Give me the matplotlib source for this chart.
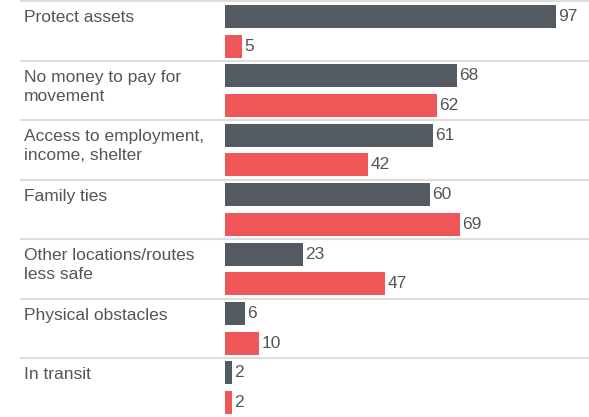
import matplotlib
matplotlib.use("Agg")
import matplotlib.pyplot as plt
import matplotlib.transforms as mtransforms

categories = ["Protect assets", "No money to pay for\nmovement",
              "Access to employment,\nincome, shelter", "Family ties",
              "Other locations/routes\nless safe", "Physical obstacles", "In transit"]
series_dark = [97, 68, 61, 60, 23, 6, 2]
series_red = [5, 62, 42, 69, 47, 10, 2]

DARK = "#535a61"
RED = "#ee5657"
TEXT = "#555555"

plt.rcParams['font.family'] = ['Liberation Sans', 'DejaVu Sans']

W, H = 589, 417
fig = plt.figure(figsize=(W / 100, H / 100), dpi=100)
ax = fig.add_axes([0, 0, 1, 1])
ax.set_axis_off()

px_per_unit = (556 - 225) / 97.0
ax.set_xlim(-225 / px_per_unit, (W - 225) / px_per_unit)
group_px = 59.5
top_off = 1.5 / group_px
ax.set_ylim(6.5 - 0.5 / group_px + 0.0, -0.5 - top_off)

n = len(categories)
ypos = list(range(n))
bh = 23 / group_px
yd = [y - 0.25 for y in ypos]
yr = [y + 0.25 for y in ypos]
bd = ax.barh(yd, series_dark, height=bh, color=DARK)
br = ax.barh(yr, series_red, height=bh, color=RED)
ax.bar_label(bd, padding=1.5, fontsize=12.5, color=TEXT)
ax.bar_label(br, padding=1.5, fontsize=12.5, color=TEXT)

for y in ypos:
    ax.hlines(y - 0.5, 20 / W, 1, transform=ax.get_yaxis_transform(),
              color="#dddddd", lw=1.5)

trans = mtransforms.blended_transform_factory(ax.transAxes, ax.transData)
for y, lab in zip(ypos, categories):
    ax.text(24 / W, y - 0.5 + 0.15, lab, transform=trans, va='top', ha='left',
            fontsize=12.5, color=TEXT, linespacing=1.34)

fig.savefig("out.png", dpi=100)
